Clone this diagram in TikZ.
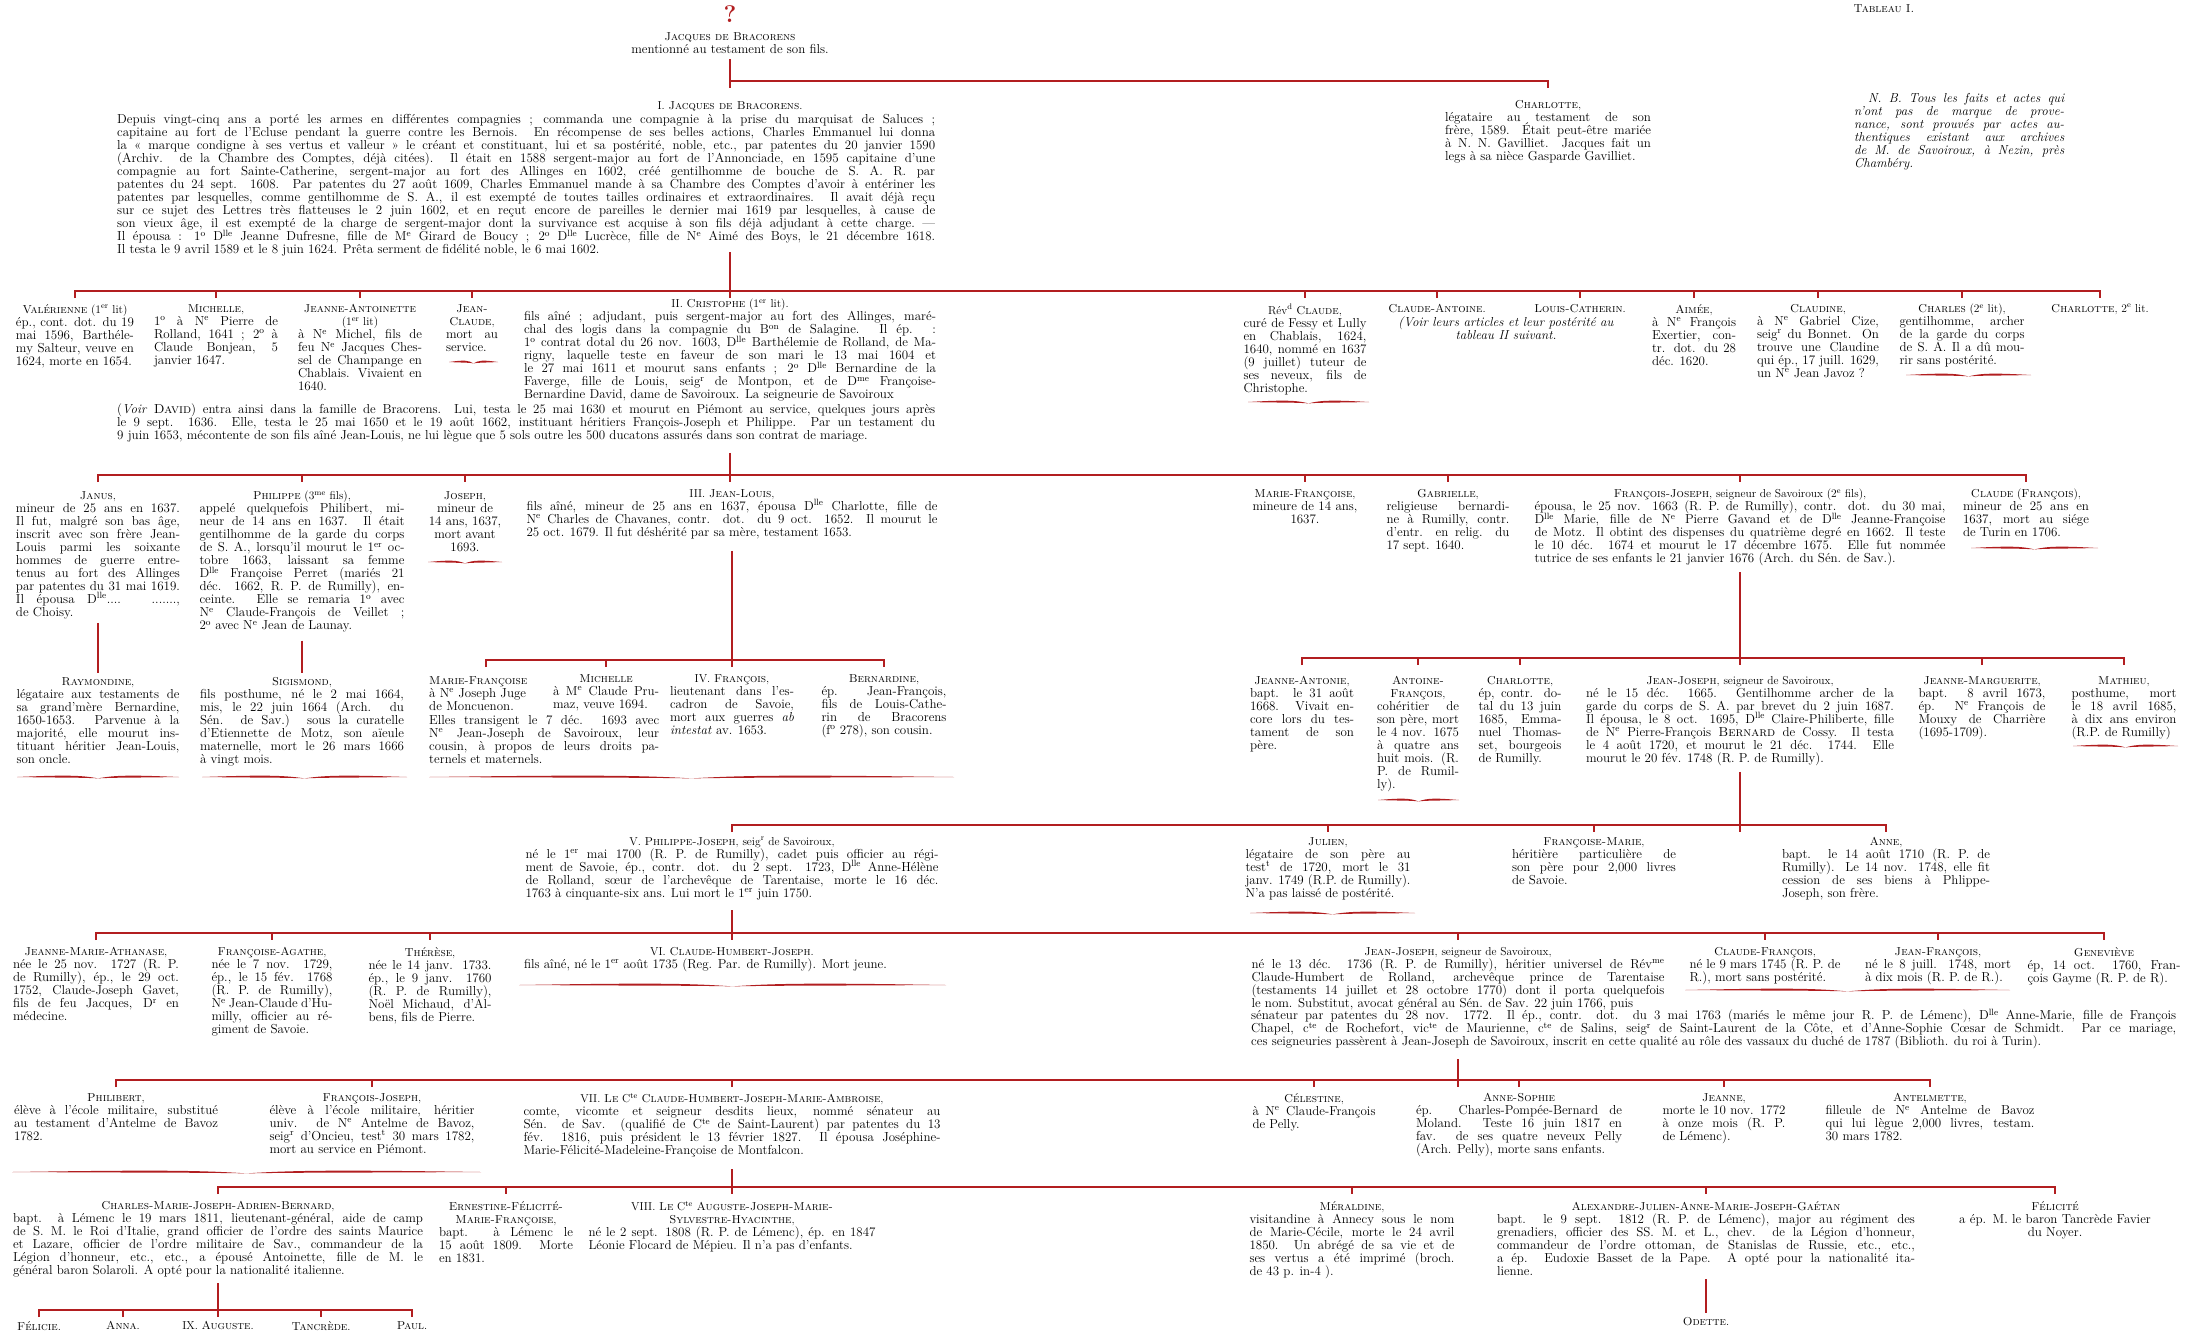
\documentclass[tikz,border=0pt]{standalone}
\definecolor{rouge}{RGB}{178,30,32}
\newcommand\corps{\fontsize{13}{13}\selectfont\lineskiplimit=-10pt\relax}
\newcommand\petit{\fontsize{11.5}{13}\selectfont}
\newcommand\expo[1]{\textsuperscript{#1}}
\newcommand\coupe{\linebreak}
\newcommand\titre[1]{{\centering\petit #1\par}}
\newcommand\filet[3]{%
  \fill[rouge] (#1,#3) .. controls ({#1+0.3*(#2-#1)},{#3-2.1}) and ({0.5*(#1+#2)-0.1*(#2-#1)},{#3-1.8}) .. ({0.5*(#1+#2)},{#3+1.4})
    .. controls ({0.5*(#1+#2)-0.1*(#2-#1)},{#3+0.4}) and ({#1+0.3*(#2-#1)},{#3+0.8}) .. cycle;
  \fill[rouge] (#2,#3) .. controls ({#2-0.3*(#2-#1)},{#3-2.1}) and ({0.5*(#1+#2)+0.1*(#2-#1)},{#3-1.8}) .. ({0.5*(#1+#2)},{#3+1.4})
    .. controls ({0.5*(#1+#2)+0.1*(#2-#1)},{#3+0.4}) and ({#2-0.3*(#2-#1)},{#3+0.8}) .. cycle;}
\hbadness=10000 \vbadness=10000 \hfuzz=60pt
\tikzset{
  fiche/.style={anchor=north, inner sep=0pt, align=justify, font=\corps},
  nom/.style={anchor=north, inner sep=0pt, font=\petit},
  lien/.style={draw=rouge, line width=2.3pt},
}
\begin{document}
\begin{tikzpicture}[x=1pt,y=-1pt]
\useasboundingbox (0,0) rectangle (2186,1336);

\node[text=rouge, font=\fontsize{24}{24}\selectfont\bfseries] (doute) at (730,14) {?};
\node[font=\petit] (tableau) at (1884,9) {\textsc{Tableau I.}};
\node[nom, align=center, font=\corps] (jacques0) at (730,32) {{\petit\textsc{Jacques de Bracorens}}\\mentionné au testament de son fils.};

\node[nom] (tjacques1) at (730,101) {I. \textsc{Jacques de Bracorens}.};
\node[fiche, anchor=north west, text width=818pt] (jacques1) at (117,114) {Depuis vingt-cinq ans a porté les armes en différentes compagnies ; commanda une compagnie à la prise du marquisat de Saluces ;\coupe capitaine au fort de l'Ecluse pendant la guerre contre les Bernois. En récompense de ses belles actions, Charles Emmanuel lui donna\coupe la « marque condigne à ses vertus et valleur » le créant et constituant, lui et sa postérité, noble, etc., par patentes du 20 janvier 1590\coupe (Archiv. de la Chambre des Comptes, déjà citées). Il était en 1588 sergent-major au fort de l'Annonciade, en 1595 capitaine d'une\coupe compagnie au fort Sainte-Catherine, sergent-major au fort des Allinges en 1602, créé gentilhomme de bouche de S. A. R. par\coupe patentes du 24 sept. 1608. Par patentes du 27 août 1609, Charles Emmanuel mande à sa Chambre des Comptes d'avoir à entériner les\coupe patentes par lesquelles, comme gentilhomme de S. A., il est exempté de toutes tailles ordinaires et extraordinaires. Il avait déjà reçu\coupe sur ce sujet des Lettres très flatteuses le 2 juin 1602, et en reçut encore de pareilles le dernier mai 1619 par lesquelles, à cause de\coupe son vieux âge, il est exempté de la charge de sergent-major dont la survivance est acquise à son fils déjà adjudant à cette charge.~---\coupe Il épousa : 1\expo{o} D\expo{lle} Jeanne Dufresne, fille de M\expo{e} Girard de Boucy ; 2\expo{o} D\expo{lle} Lucrèce, fille de N\expo{e} Aimé des Boys, le 21 décembre 1618.\coupe Il testa le 9 avril 1589 et le 8 juin 1624. Prêta serment de fidélité noble, le 6 mai 1602.};
\node[fiche, text width=206pt] (charlotte1) at (1548,100) {\titre{\textsc{Charlotte},} légataire au testament de son\coupe frère, 1589. Était peut-être mariée\coupe à N. N. Gavilliet. Jacques fait un\coupe legs à sa nièce Gasparde Gavilliet.};
\node[fiche, anchor=north west, text width=210pt, font=\corps\itshape] (nb) at (1854,93) {\hspace*{14pt}N. B. Tous les faits et actes qui\coupe n'ont pas de marque de prove-\coupe nance, sont prouvés par actes au-\coupe thentiques existant aux archives\coupe de M. de Savoiroux, à Nezin, près\coupe Chambéry.};

\node[fiche, text width=118pt] (valerienne) at (75,304) {\titre{\textsc{Valérienne} (1\expo{er} lit)} ép., cont. dot. du 19\coupe mai 1596, Barthéle-\coupe my Salteur, veuve en\coupe 1624, morte en 1654.};
\node[fiche, text width=124pt] (michelle) at (216,304) {\titre{\textsc{Michelle},} 1\expo{o} à N\expo{e} Pierre de\coupe Rolland, 1641 ; 2\expo{o} à\coupe Claude Bonjean, 5\coupe janvier 1647.};
\node[fiche, text width=124pt] (jeanneant) at (360,304) {\titre{\textsc{Jeanne-Antoinette}\\(1\expo{er} lit)} à N\expo{e} Michel, fils de\coupe feu N\expo{e} Jacques Ches-\coupe sel de Champange en\coupe Chablais. Vivaient en\coupe 1640.};
\node[fiche, text width=52pt] (jeanclaude) at (472,304) {\titre{\textsc{Jean-}\\\textsc{Claude},} mort au\coupe service.};
\node[fiche, text width=412pt] (christophe) at (730,299) {\titre{II. \textsc{Cristophe} (1\expo{er} lit).}\parfillskip=0pt\relax fils aîné ; adjudant, puis sergent-major au fort des Allinges, maré-\coupe chal des logis dans la compagnie du B\expo{on} de Salagine. Il ép. :\coupe 1\expo{o} contrat dotal du 26 nov. 1603, D\expo{lle} Barthélemie de Rolland, de Ma-\coupe rigny, laquelle teste en faveur de son mari le 13 mai 1604 et\coupe le 27 mai 1611 et mourut sans enfants ; 2\expo{o} D\expo{lle} Bernardine de la\coupe Faverge, fille de Louis, seig\expo{r} de Montpon, et de D\expo{me} Françoise-\coupe Bernardine David, dame de Savoiroux. La seigneurie de Savoiroux};
\node[fiche, anchor=north west, text width=818pt] (voir) at (117,404) {\parfillskip=0pt\relax (\textit{Voir} \textsc{David}) entra ainsi dans la famille de Bracorens. Lui, testa le 25 mai 1630 et mourut en Piémont au service, quelques jours après\coupe le 9 sept. 1636. Elle, testa le 25 mai 1650 et le 19 août 1662, instituant héritiers François-Joseph et Philippe. Par un testament du\coupe 9 juin 1653, mécontente de son fils aîné Jean-Louis, ne lui lègue que 5 sols outre les 500 ducatons assurés dans son contrat de mariage.};
\node[fiche, text width=123pt] (revclaude) at (1305,304) {\titre{Rév\expo{d} \textsc{Claude},} curé de Fessy et Lully\coupe en Chablais, 1624,\coupe 1640, nommé en 1637\coupe (9 juillet) tuteur de\coupe ses neveux, fils de\coupe Christophe.};
\node[nom] (claudeant) at (1437,304) {\textsc{Claude-Antoine}.};
\node[nom] (louiscath) at (1580,304) {\textsc{Louis-Catherin}.};
\node[nom, align=center, font=\corps\itshape] (renvoi) at (1506,317) {(Voir leurs articles et leur postérité au\\tableau II suivant.};
\node[fiche, text width=84pt] (aimee) at (1694,304) {\titre{\textsc{Aimée},} à N\expo{e} François\coupe Exertier, con-\coupe tr. dot. du 28\coupe déc. 1620.};
\node[fiche, text width=122pt] (claudine) at (1818,304) {\titre{\textsc{Claudine},} à N\expo{e} Gabriel Cize,\coupe seig\expo{r} du Bonnet. On\coupe trouve une Claudine\coupe qui ép., 17 juill. 1629,\coupe un N\expo{e} Jean Javoz ?};
\node[fiche, text width=125pt] (charles) at (1962,304) {\titre{\textsc{Charles} (2\expo{e} lit),} gentilhomme, archer\coupe de la garde du corps\coupe de S. A. Il a dû mou-\coupe rir sans postérité.};
\node[nom] (charlotte2) at (2100,304) {\textsc{Charlotte}, 2\expo{e} lit.};

\node[fiche, text width=164pt] (janus) at (98,491) {\titre{\textsc{Janus},} mineur de 25 ans en 1637.\coupe Il fut, malgré son bas âge,\coupe inscrit avec son frère Jean-\coupe Louis parmi les soixante\coupe hommes de guerre entre-\coupe tenus au fort des Allinges\coupe par patentes du 31 mai 1619.\coupe Il épousa D\expo{lle}.... .......,\coupe de Choisy.};
\node[fiche, text width=205pt] (philippe) at (302,491) {\titre{\textsc{Philippe} (3\expo{me} fils),} appelé quelquefois Philibert, mi-\coupe neur de 14 ans en 1637. Il était\coupe gentilhomme de la garde du corps\coupe de S. A., lorsqu'il mourut le 1\expo{er} oc-\coupe tobre 1663, laissant sa femme\coupe D\expo{lle} Françoise Perret (mariés 21\coupe déc. 1662, R. P. de Rumilly), en-\coupe ceinte. Elle se remaria 1\expo{o} avec\coupe N\expo{e} Claude-François de Veillet ;\coupe 2\expo{o} avec N\expo{e} Jean de Launay.};
\node[fiche, text width=80pt, align=center] (joseph) at (465,491) {{\petit\textsc{Joseph},}\\mineur de\\14 ans, 1637,\\mort avant\\1693.};
\node[fiche, text width=411pt] (jeanlouis) at (732,489) {\titre{III. \textsc{Jean-Louis},} fils aîné, mineur de 25 ans en 1637, épousa D\expo{lle} Charlotte, fille de\coupe N\expo{e} Charles de Chavanes, contr. dot. du 9 oct. 1652. Il mourut le\coupe 25 oct. 1679. Il fut déshérité par sa mère, testament 1653.};
\node[fiche, text width=123pt, align=center] (mfrancoise1) at (1305,489) {{\petit\textsc{Marie-Françoise},}\\mineure de 14 ans,\\1637.};
\node[fiche, text width=123pt] (gabrielle) at (1448,489) {\titre{\textsc{Gabrielle},} religieuse bernardi-\coupe ne à Rumilly, contr.\coupe d'entr. en relig. du\coupe 17 sept. 1640.};
\node[fiche, text width=411pt] (fjoseph) at (1740,489) {\titre{\textsc{François-Joseph}, seigneur de Savoiroux (2\expo{e} fils),} épousa, le 25 nov. 1663 (R. P. de Rumilly), contr. dot. du 30 mai,\coupe D\expo{lle} Marie, fille de N\expo{e} Pierre Gavand et de D\expo{lle} Jeanne-Françoise\coupe de Motz. Il obtint des dispenses du quatrième degré en 1662. Il teste\coupe le 10 déc. 1674 et mourut le 17 décembre 1675. Elle fut nommée\coupe tutrice de ses enfants le 21 janvier 1676 (Arch. du Sén. de Sav.).};
\node[fiche, text width=126pt] (claudefr) at (2026,489) {\titre{\textsc{Claude} (\textsc{François}),} mineur de 25 ans en\coupe 1637, mort au siége\coupe de Turin en 1706.};

\node[fiche, text width=163pt] (raymondine) at (98,677) {\titre{\textsc{Raymondine},} légataire aux testaments de\coupe sa grand'mère Bernardine,\coupe 1650-1653. Parvenue à la\coupe majorité, elle mourut ins-\coupe tituant héritier Jean-Louis,\coupe son oncle.};
\node[fiche, text width=204pt] (sigismond) at (302,677) {\titre{\textsc{Sigismond},} fils posthume, né le 2 mai 1664,\coupe mis, le 22 juin 1664 (Arch. du\coupe Sén. de Sav.) sous la curatelle\coupe d'Etiennette de Motz, son aïeule\coupe maternelle, mort le 26 mars 1666\coupe à vingt mois.};
\node[fiche, anchor=north west, text width=114pt, align=left] (mfrancoise2) at (429,676) {{\petit\textsc{Marie-Françoise}}\\à N\expo{e} Joseph Juge\\de Moncuenon.};
\node[fiche, anchor=north west, text width=230pt] (elles) at (429,715) {Elles transigent le 7 déc. 1693 avec\coupe N\expo{e} Jean-Joseph de Savoiroux, leur\coupe cousin, à propos de leurs droits pa-\coupe ternels et maternels.};
\node[fiche, text width=106pt] (michelle2) at (606,674) {\titre{\textsc{Michelle}} à M\expo{e} Claude Pru-\coupe maz, veuve 1694.};
\node[fiche, text width=124pt] (francois4) at (732,674) {\titre{IV. \textsc{François},} lieutenant dans l'es-\coupe cadron de Savoie,\coupe mort aux guerres \textit{ab}\coupe \textit{intestat} av. 1653.};
\node[fiche, text width=125pt] (bernardine) at (884,674) {\titre{\textsc{Bernardine},} ép. Jean-François,\coupe fils de Louis-Cathe-\coupe rin de Bracorens\coupe (f\expo{o} 278), son cousin.};

\node[fiche, text width=104pt] (jeanneantonie) at (1302,676) {\titre{\textsc{Jeanne-Antonie},} bapt. le 31 août\coupe 1668. Vivait en-\coupe core lors du tes-\coupe tament de son\coupe père.};
\node[fiche, text width=82pt] (antoinefr) at (1418,676) {\titre{\textsc{Antoine-}\\\textsc{François},} cohéritier de\coupe son père, mort\coupe le 4 nov. 1675\coupe à quatre ans\coupe huit mois. (R.\coupe P. de Rumil-\coupe ly).};
\node[fiche, text width=83pt] (charlotte3) at (1520,676) {\titre{\textsc{Charlotte},} ép, contr. do-\coupe tal du 13 juin\coupe 1685, Emma-\coupe nuel Thomas-\coupe set, bourgeois\coupe de Rumilly.};
\node[fiche, text width=308pt] (jeanjoseph3) at (1740,676) {\titre{\textsc{Jean-Joseph}, seigneur de Savoiroux,} né le 15 déc. 1665. Gentilhomme archer de la\coupe garde du corps de S. A. par brevet du 2 juin 1687.\coupe Il épousa, le 8 oct. 1695, D\expo{lle} Claire-Philiberte, fille\coupe de N\expo{e} Pierre-François \textsc{Bernard} de Cossy. Il testa\coupe le 4 août 1720, et mourut le 21 déc. 1744. Elle\coupe mourut le 20 fév. 1748 (R. P. de Rumilly).};
\node[fiche, text width=127pt] (jeannemarg) at (1982,676) {\titre{\textsc{Jeanne-Marguerite},} bapt. 8 avril 1673,\coupe ép. N\expo{e} François de\coupe Mouxy de Charrière\coupe (1695-1709).};
\node[fiche, text width=105pt] (mathieu) at (2124,676) {\titre{\textsc{Mathieu},} posthume, mort\coupe le 18 avril 1685,\coupe à dix ans environ\coupe (R.P. de Rumilly)};

\node[fiche, text width=413pt] (philippejoseph) at (732,837) {\titre{V. \textsc{Philippe-Joseph}, seig\expo{r} de Savoiroux,} né le 1\expo{er} mai 1700 (R. P. de Rumilly), cadet puis officier au régi-\coupe ment de Savoie, ép., contr. dot. du 2 sept. 1723, D\expo{lle} Anne-Hélène\coupe de Rolland, sœur de l'archevêque de Tarentaise, morte le 16 déc.\coupe 1763 à cinquante-six ans. Lui mort le 1\expo{er} juin 1750.};
\node[fiche, text width=165pt] (julien) at (1328,837) {\titre{\textsc{Julien},} légataire de son père au\coupe test\expo{t} de 1720, mort le 31\coupe janv. 1749 (R.P. de Rumilly).\coupe N'a pas laissé de postérité.};
\node[fiche, text width=164pt] (francoisemarie) at (1594,837) {\titre{\textsc{Françoise-Marie},} héritière particulière de\coupe son père pour 2,000 livres\coupe de Savoie.};
\node[fiche, text width=208pt] (anne) at (1886,837) {\titre{\textsc{Anne},} bapt. le 14 août 1710 (R. P. de\coupe Rumilly). Le 14 nov. 1748, elle fit\coupe cession de ses biens à Phlippe-\coupe Joseph, son frère.};

\node[fiche, text width=166pt] (jmathanase) at (96,947) {\titre{\textsc{Jeanne-Marie-Athanase},} née le 25 nov. 1727 (R. P.\coupe de Rumilly), ép., le 29 oct.\coupe 1752, Claude-Joseph Gavet,\coupe fils de feu Jacques, D\expo{r} en\coupe médecine.};
\node[fiche, text width=121pt] (fagathe) at (272,947) {\titre{\textsc{Françoise-Agathe},} née le 7 nov. 1729,\coupe ép., le 15 fév. 1768\coupe (R. P. de Rumilly),\coupe N\expo{e} Jean-Claude d'Hu-\coupe milly, officier au ré-\coupe giment de Savoie.};
\node[fiche, text width=123pt] (therese) at (430,947) {\titre{\textsc{Thérèse},} née le 14 janv. 1733.\coupe ép., le 9 janv. 1760\coupe (R. P. de Rumilly),\coupe Noël Michaud, d'Al-\coupe bens, fils de Pierre.};
\node[fiche, text width=416pt] (claudehumbert) at (732,947) {\titre{VI. \textsc{Claude-Humbert-Joseph}.}\parfillskip=0pt\relax fils aîné, né le 1\expo{er} août 1735 (Reg. Par. de Rumilly). Mort jeune.};
\node[fiche, text width=413pt] (jeanjoseph5) at (1458,947) {\titre{\textsc{Jean-Joseph}, seigneur de Savoiroux,}\parfillskip=0pt\relax né le 13 déc. 1736 (R. P. de Rumilly), héritier universel de Rév\expo{me}\coupe Claude-Humbert de Rolland, archevêque prince de Tarentaise\coupe (testaments 14 juillet et 28 octobre 1770) dont il porta quelquefois\coupe le nom. Substitut, avocat général au Sén. de Sav. 22 juin 1766, puis};
\node[fiche, anchor=north west, text width=925pt] (jjsuite) at (1251,1009) {\parfillskip=0pt\relax sénateur par patentes du 28 nov. 1772. Il ép., contr. dot. du 3 mai 1763 (mariés le même jour R. P. de Lémenc), D\expo{lle} Anne-Marie, fille de François\coupe Chapel, c\expo{te} de Rochefort, vic\expo{te} de Maurienne, c\expo{te} de Salins, seig\expo{r} de Saint-Laurent de la Côte, et d'Anne-Sophie Cœsar de Schmidt. Par ce mariage,\coupe ces seigneuries passèrent à Jean-Joseph de Savoiroux, inscrit en cette qualité au rôle des vassaux du duché de 1787 (Biblioth. du roi à Turin).};
\node[fiche, text width=151pt] (claudefr5) at (1765,947) {\titre{\textsc{Claude-François},} né le 9 mars 1745 (R. P. de\coupe R.), mort sans postérité.};
\node[fiche, text width=146pt] (jeanfr5) at (1938,947) {\titre{\textsc{Jean-François},} né le 8 juill. 1748, mort\coupe à dix mois (R. P. de R.).};
\node[fiche, text width=153pt] (genevieve) at (2104,947) {\titre{\textsc{Geneviève}} ép, 14 oct. 1760, Fran-\coupe çois Gayme (R. P. de R).};

\node[fiche, text width=204pt] (philibert) at (116,1093) {\titre{\textsc{Philibert},} élève à l'école militaire, substitué\coupe au testament d'Antelme de Bavoz\coupe 1782.};
\node[fiche, text width=205pt] (fjoseph6) at (372,1093) {\titre{\textsc{François-Joseph},} élève à l'école militaire, héritier\coupe univ. de N\expo{e} Antelme de Bavoz,\coupe seig\expo{r} d'Oncieu, test\expo{t} 30 mars 1782,\coupe mort au service en Piémont.};
\node[fiche, text width=417pt] (vii) at (732,1093) {\titre{VII. \textsc{Le} C\expo{te} \textsc{Claude-Humbert-Joseph-Marie-Ambroise},} comte, vicomte et seigneur desdits lieux, nommé sénateur au\coupe Sén. de Sav. (qualifié de C\expo{te} de Saint-Laurent) par patentes du 13\coupe fév. 1816, puis président le 13 février 1827. Il épousa Joséphine-\coupe Marie-Félicité-Madeleine-Françoise de Montfalcon.};
\node[fiche, text width=123pt] (celestine) at (1314,1093) {\titre{\textsc{Célestine},} à N\expo{e} Claude-François\coupe de Pelly.};
\node[fiche, text width=206pt] (annesophie) at (1519,1093) {\titre{\textsc{Anne-Sophie}} ép. Charles-Pompée-Bernard de\coupe Moland. Teste 16 juin 1817 en\coupe fav. de ses quatre neveux Pelly\coupe (Arch. Pelly), morte sans enfants.};
\node[fiche, text width=123pt] (jeanne6) at (1724,1093) {\titre{\textsc{Jeanne},} morte le 10 nov. 1772\coupe à onze mois (R. P.\coupe de Lémenc).};
\node[fiche, text width=209pt] (antelmette) at (1930,1093) {\titre{\textsc{Antelmette},} filleule de N\expo{e} Antelme de Bavoz\coupe qui lui lègue 2,000 livres, testam.\coupe 30 mars 1782.};

\node[fiche, text width=410pt] (charlesmarie) at (218,1201) {\titre{\textsc{Charles-Marie-Joseph-Adrien-Bernard},} bapt. à Lémenc le 19 mars 1811, lieutenant-général, aide de camp\coupe de S. M. le Roi d'Italie, grand officier de l'ordre des saints Maurice\coupe et Lazare, officier de l'ordre militaire de Sav., commandeur de la\coupe Légion d'honneur, etc., etc., a épousé Antoinette, fille de M. le\coupe général baron Solaroli. A opté pour la nationalité italienne.};
\node[fiche, text width=134pt] (ernestine) at (506,1201) {\titre{\textsc{Ernestine-Félicité-}\\\textsc{Marie-Françoise},} bapt. à Lémenc le\coupe 15 août 1809. Morte\coupe en 1831.};
\node[fiche, text width=287pt] (viii) at (732,1201) {\titre{VIII. \textsc{Le} C\expo{te} \textsc{Auguste-Joseph-Marie-}\\\textsc{Sylvestre-Hyacinthe},} né le 2 sept. 1808 (R. P. de Lémenc), ép. en 1847\coupe Léonie Flocard de Mépieu. Il n'a pas d'enfants.};
\node[fiche, text width=205pt] (meraldine) at (1352,1201) {\titre{\textsc{Méraldine},} visitandine à Annecy sous le nom\coupe de Marie-Cécile, morte le 24 avril\coupe 1850. Un abrégé de sa vie et de\coupe ses vertus a été imprimé (broch.\coupe de 43 p. in-4 ).};
\node[fiche, text width=418pt] (alexandre) at (1706,1201) {\titre{\textsc{Alexandre-Julien-Anne-Marie-Joseph-Gaétan}} bapt. le 9 sept. 1812 (R. P. de Lémenc), major au régiment des\coupe grenadiers, officier des SS. M. et L., chev. de la Légion d'honneur,\coupe commandeur de l'ordre ottoman, de Stanislas de Russie, etc., etc.,\coupe a ép. Eudoxie Basset de la Pape. A opté pour la nationalité ita-\coupe lienne.};
\node[fiche, text width=209pt, align=center] (felicite) at (2055,1201) {{\petit\textsc{Félicité}}\\a ép. M. le baron Tancrède Favier\\du Noyer.};

\node[nom] (felicie) at (39,1321) {\textsc{Félicie}.};
\node[nom] (anna) at (123,1321) {\textsc{Anna}.};
\node[nom] (auguste9) at (218,1321) {IX. \textsc{Auguste}.};
\node[nom] (tancrede) at (321,1321) {\textsc{Tancrède}.};
\node[nom] (paul) at (412,1321) {\textsc{Paul}.};
\node[nom] (odette) at (1706,1317) {\textsc{Odette}.};

\coordinate (f0) at (730,81);
\coordinate (f1) at (730,291);
\coordinate (f2) at (730,475);
\coordinate (f3a) at (732,660);
\coordinate (f3b) at (1740,658);
\coordinate (f4) at (1740,825);
\coordinate (f5) at (732,933);
\coordinate (f6) at (1458,1080);
\coordinate (f7) at (732,1187);
\coordinate (f8) at (218,1310);

\draw[lien] (jacques0.south) ++(0,6) -- (f0) -- ++(0,7);
\draw[lien] (f0) -- (charlotte1.north |- f0) -- ++(0,7);

\draw[lien] (jacques1.south -| tjacques1) ++(0,-4) -- (f1) -- ++(0,7);
\draw[lien] (valerienne.north |- f1) ++(0,7) -- (valerienne.north |- f1) -- (charlotte2.north |- f1) -- ++(0,7);
\foreach \n in {michelle,jeanneant,jeanclaude,revclaude,claudeant,louiscath,aimee,claudine,charles}
  \draw[lien] (\n.north |- f1) -- ++(0,7);

\draw[lien] (voir.south -| christophe) ++(0,10) -- (f2) -- ++(0,7);
\draw[lien] (janus.north |- f2) ++(0,7) -- (janus.north |- f2) -- (claudefr.north |- f2) -- ++(0,7);
\foreach \n in {philippe,joseph,mfrancoise1,gabrielle,fjoseph}
  \draw[lien] (\n.north |- f2) -- ++(0,7);

\draw[lien] (janus.south) ++(0,4) -- ([yshift=4pt]raymondine.north);
\draw[lien] (philippe.south) ++(0,8) -- ([yshift=4pt]sigismond.north);

\draw[lien] (jeanlouis.south) ++(0,12) -- (f3a) -- ++(0,7);
\draw[lien] (mfrancoise2.north |- f3a) ++(0,7) -- (mfrancoise2.north |- f3a) -- (bernardine.north |- f3a) -- ++(0,7);
\draw[lien] (michelle2.north |- f3a) -- ++(0,7);

\draw[lien] (fjoseph.south) ++(0,6) -- (f3b) -- ++(0,7);
\draw[lien] (jeanneantonie.north |- f3b) ++(0,7) -- (jeanneantonie.north |- f3b) -- (mathieu.north |- f3b) -- ++(0,7);
\foreach \n in {antoinefr,charlotte3,jeannemarg}
  \draw[lien] (\n.north |- f3b) -- ++(0,7);

\draw[lien] (jeanjoseph3.south) ++(0,6) -- (f4) -- ++(0,7);
\draw[lien] (philippejoseph.north |- f4) ++(0,7) -- (philippejoseph.north |- f4) -- (anne.north |- f4) -- ++(0,7);
\foreach \n in {julien,francoisemarie}
  \draw[lien] (\n.north |- f4) -- ++(0,7);

\draw[lien] (philippejoseph.south) ++(0,10) -- (f5) -- ++(0,7);
\draw[lien] (jmathanase.north |- f5) ++(0,7) -- (jmathanase.north |- f5) -- (genevieve.north |- f5) -- ++(0,7);
\foreach \n in {fagathe,therese,jeanjoseph5,claudefr5,jeanfr5}
  \draw[lien] (\n.north |- f5) -- ++(0,7);

\draw[lien] (jjsuite.south -| jeanjoseph5) ++(0,10) -- (f6) -- ++(0,7);
\draw[lien] (philibert.north |- f6) ++(0,7) -- (philibert.north |- f6) -- (antelmette.north |- f6) -- ++(0,7);
\foreach \n in {fjoseph6,vii,celestine,annesophie,jeanne6}
  \draw[lien] (\n.north |- f6) -- ++(0,7);

\draw[lien] (vii.south) ++(0,12) -- (f7) -- ++(0,7);
\draw[lien] (charlesmarie.north |- f7) ++(0,7) -- (charlesmarie.north |- f7) -- (felicite.north |- f7) -- ++(0,7);
\foreach \n in {ernestine,meraldine,alexandre}
  \draw[lien] (\n.north |- f7) -- ++(0,7);

\draw[lien] (charlesmarie.south) ++(0,6) -- (f8) -- ++(0,7);
\draw[lien] (felicie.north |- f8) ++(0,7) -- (felicie.north |- f8) -- (paul.north |- f8) -- ++(0,7);
\foreach \n in {anna,tancrede}
  \draw[lien] (\n.north |- f8) -- ++(0,7);

\draw[lien] (alexandre.south) ++(0,4) -- ([yshift=4pt]odette.north);

\filet{449}{498}{362}
\filet{1248}{1369}{402}
\filet{1906}{2031}{375}
\filet{428}{502}{562}
\filet{1971}{2098}{548}
\filet{17}{179}{777}
\filet{202}{407}{777}
\filet{429}{954}{777}
\filet{1378}{1459}{800}
\filet{2073}{2178}{746}
\filet{1250}{1415}{913}
\filet{519}{946}{985}
\filet{1685}{2010}{990}
\filet{12}{481}{1172}
\end{tikzpicture}
\end{document}
